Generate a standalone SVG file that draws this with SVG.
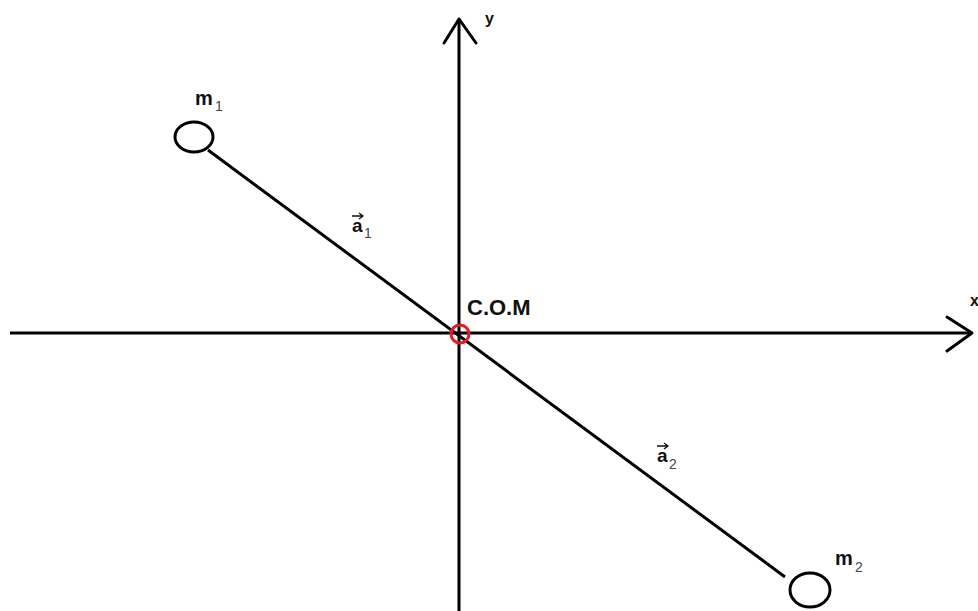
<svg xmlns="http://www.w3.org/2000/svg" width="978" height="611" viewBox="0 0 978 611">
<style>
.ax{stroke:#000;stroke-width:3;fill:none;stroke-linecap:round;stroke-linejoin:round}
.ln{stroke:#000;stroke-width:3;fill:none}
.lb{font-family:"Liberation Sans",Arial,sans-serif;font-weight:bold;fill:#111}
.sub{font-family:"Liberation Sans",Arial,sans-serif;font-size:14px;fill:#444}
</style>
<rect width="978" height="611" fill="#fff"/>
<g id="connectors">
<line class="ln" x1="10" y1="333" x2="972" y2="333"/>
<polyline class="ax" points="947,317 972,333 947,351"/>
<line class="ln" x1="459" y1="611" x2="459" y2="19"/>
<polyline class="ax" points="444,43 459,19 476,43"/>
<line class="ln" x1="208" y1="150" x2="785" y2="577"/>
</g>
<g id="m1">
<ellipse cx="194" cy="137" rx="19" ry="15" fill="#fff" stroke="#000" stroke-width="3"/>
<text class="lb" x="195" y="105" font-size="20">m</text>
<text class="sub" x="215" y="111">1</text>
</g>
<g id="m2">
<ellipse cx="810" cy="590" rx="20" ry="17" fill="#fff" stroke="#000" stroke-width="3"/>
<text class="lb" x="835" y="565" font-size="20">m</text>
<text class="sub" x="855" y="572">2</text>
</g>
<g id="com">
<circle cx="460" cy="334" r="9" fill="none" stroke="#e51c23" stroke-width="3"/>
<text class="lb" x="467" y="315" font-size="22">C.O.M</text>
</g>
<g id="a1">
<text class="lb" x="352" y="232" font-size="19">a</text>
<path d="M352 216 H363 M359 213 L363 216 L359 219" stroke="#111" stroke-width="1.3" fill="none"/>
<text class="sub" x="364" y="238">1</text>
</g>
<g id="a2">
<text class="lb" x="657" y="462" font-size="19">a</text>
<path d="M657 446 H668 M664 443 L668 446 L664 449" stroke="#111" stroke-width="1.3" fill="none"/>
<text class="sub" x="669" y="469">2</text>
</g>
<g id="labels">
<text class="lb" x="485" y="24" font-size="16">y</text>
<text class="lb" x="970" y="306" font-size="16">x</text>
</g>
</svg>
